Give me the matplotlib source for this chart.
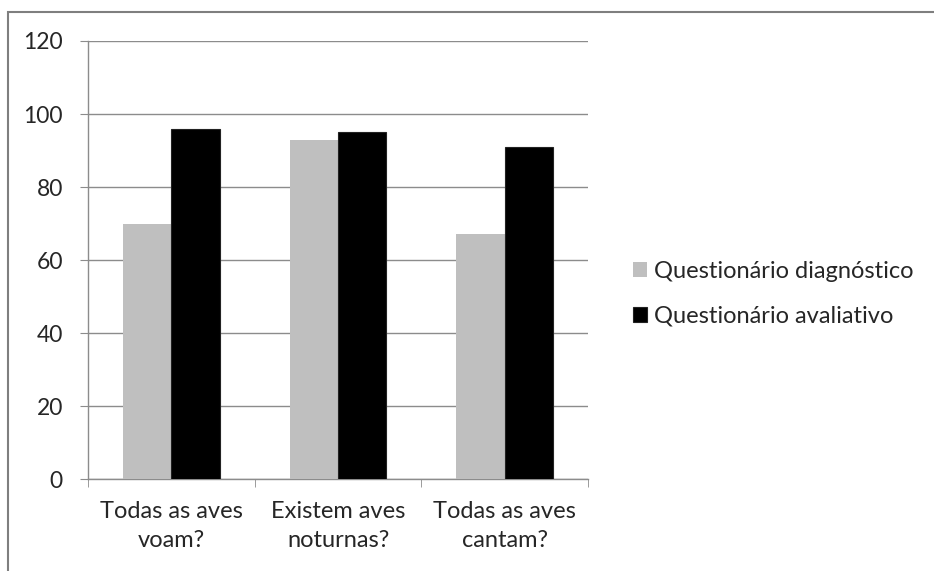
import numpy as np
import matplotlib.pyplot as plt
from matplotlib.patches import Rectangle

# Respostas corretas (%) por pergunta, antes e depois da atividade
perguntas = ['Todas as aves\nvoam?', 'Existem aves\nnoturnas?', 'Todas as aves\ncantam?']
diagnostico = [70, 93, 67]
avaliativo = [96, 95, 91]
series = ['Questionário diagnóstico', 'Questionário avaliativo']

plt.rcParams['font.family'] = ['Lato', 'DejaVu Sans']
texto = '#262626'
linha = '#8c8c8c'

fig = plt.figure(figsize=(9.34, 5.71), dpi=100)
ax = fig.add_axes([0.0942, 0.1611, 0.5354, 0.7671])

x = np.arange(len(perguntas))
w = 0.29
ax.bar(x - w / 2, diagnostico, w, color='#bfbfbf', label=series[0], zorder=3)
ax.bar(x + w / 2, avaliativo, w, color='black', edgecolor='#222222', linewidth=0.8,
       label=series[1], zorder=3)

ax.set_xlim(-0.5, len(perguntas) - 0.5)
ax.set_ylim(0, 120)
ax.set_yticks(range(0, 121, 20))
ax.yaxis.grid(True, color=linha, linewidth=1, zorder=0)

# rótulos no centro das categorias, marcas nas divisões
ax.set_xticks(x)
ax.set_xticklabels(perguntas, fontsize=17, color=texto, linespacing=1.45)
ax.set_xticks(np.arange(-0.5, len(perguntas)), minor=True)
ax.tick_params(axis='x', which='major', length=0, pad=16)
ax.tick_params(axis='x', which='minor', length=6, color=linha, direction='out')
ax.tick_params(axis='y', length=6, color=linha, labelsize=16.5, labelcolor=texto, pad=12)

for lado in ['top', 'right']:
    ax.spines[lado].set_visible(False)
for lado in ['left', 'bottom']:
    ax.spines[lado].set_color(linha)
    ax.spines[lado].set_linewidth(1)

fig.legend(loc='center left', bbox_to_anchor=(0.655, 0.485), frameon=False,
           fontsize=17, handlelength=0.6, handleheight=0.6, handletextpad=0.3,
           labelspacing=1.0, labelcolor=texto)

# moldura do gráfico
fig.patches.append(Rectangle((8 / 934, -0.1), 1.2, 1.1 - 12 / 571, transform=fig.transFigure,
                             fill=False, edgecolor='#7f7f7f', linewidth=1.5))

fig.savefig('out.png', dpi=100)
